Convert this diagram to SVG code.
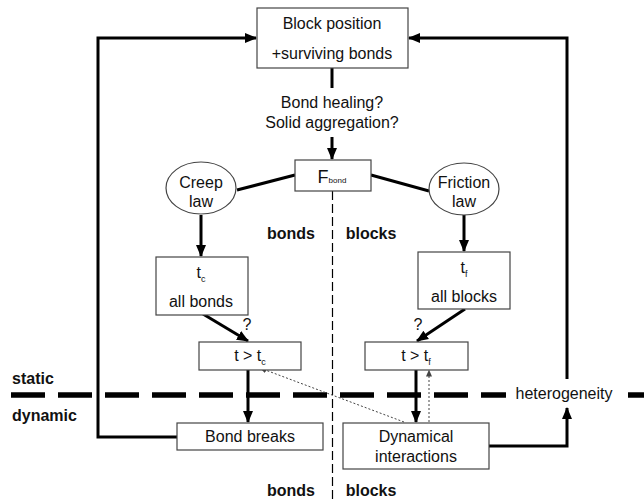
<svg xmlns="http://www.w3.org/2000/svg" width="644" height="501" viewBox="0 0 644 501">
<style>
text{font-family:"Liberation Sans",Arial,sans-serif;font-size:16px;fill:#111;text-anchor:middle}
.b{font-weight:bold}
.box{fill:#fff;stroke:#444;stroke-width:1.2}
.thick{fill:none;stroke:#000;stroke-width:3}
.dot{fill:none;stroke:#444;stroke-width:1;stroke-dasharray:2 2}
.sub{font-size:9px}
</style>
<defs>
<marker id="ah" markerUnits="userSpaceOnUse" markerWidth="12" markerHeight="12" viewBox="0 0 12 12" refX="11" refY="6" orient="auto"><path d="M0,1 L12,6 L0,11 Z" fill="#000"/></marker>
<marker id="as" markerUnits="userSpaceOnUse" markerWidth="7" markerHeight="7" viewBox="0 0 7 7" refX="6.5" refY="3.5" orient="auto"><path d="M0,0.5 L7,3.5 L0,6.5 Z" fill="#444"/></marker>
</defs>
<g id="separators">
<line x1="332.5" y1="191" x2="332.5" y2="501" stroke="#000" stroke-width="1.2" stroke-dasharray="9 4"/>
<line x1="11" y1="395" x2="506" y2="395" stroke="#000" stroke-width="5.5" stroke-dasharray="34 13"/>
<line x1="628" y1="395" x2="644" y2="395" stroke="#000" stroke-width="5.5"/>
</g>
<g id="connectors">
<path class="thick" d="M177,437 H98 V38 H256" marker-end="url(#ah)"/>
<path class="thick" d="M567,379 V38 H409" marker-end="url(#ah)"/>
<path class="thick" d="M332,68 V88"/>
<path class="thick" d="M332,137 V159" marker-end="url(#ah)"/>
<path class="thick" d="M237,190 L295,175"/>
<path class="thick" d="M371,175 L429,191"/>
<path class="thick" d="M201,215 V256" marker-end="url(#ah)"/>
<path class="thick" d="M464,214 V251" marker-end="url(#ah)"/>
<path class="thick" d="M203,314 L248,341" marker-end="url(#ah)"/>
<path class="thick" d="M465,309 L417,341" marker-end="url(#ah)"/>
<path class="thick" d="M248,370 V422" marker-end="url(#ah)"/>
<path class="thick" d="M416,370 V422" marker-end="url(#ah)"/>
<path class="thick" d="M489,446 H567 V408" marker-end="url(#ah)"/>
<path class="dot" d="M404,422 L260,368" marker-end="url(#as)"/>
<path class="dot" d="M429,422 V370" marker-end="url(#as)"/>
</g>
<g id="top"><rect class="box" x="257" y="8" width="151" height="60"/><text x="332" y="29" font-size="16.5">Block position</text><text x="332" y="59" font-size="16.5">+surviving bonds</text></g>
<g id="question"><text x="332" y="108" font-size="16.5">Bond healing?</text><text x="332" y="128" font-size="16.5">Solid aggregation?</text></g>
<g id="fbond"><rect class="box" x="295" y="160" width="76" height="31"/><text x="332" y="183"><tspan font-size="18">F</tspan><tspan font-size="8">bond</tspan></text></g>
<g id="creep"><ellipse cx="201" cy="188" rx="35" ry="26" fill="#fff" stroke="#444" stroke-width="1.2"/><text x="201" y="188">Creep</text><text x="201" y="207">law</text></g>
<g id="friction"><ellipse cx="464" cy="189" rx="35" ry="26" fill="#fff" stroke="#444" stroke-width="1.2"/><text x="464" y="188">Friction</text><text x="464" y="207">law</text></g>
<g id="labels"><text class="b" x="291" y="239">bonds</text><text class="b" x="371" y="239">blocks</text><text class="b" x="291" y="496">bonds</text><text class="b" x="371" y="496">blocks</text><text class="b" x="12" y="384" style="text-anchor:start">static</text><text class="b" x="12" y="421" style="text-anchor:start">dynamic</text><text x="564" y="399">heterogeneity</text></g>
<g id="tc"><rect class="box" x="156" y="257" width="92" height="58"/><text x="201" y="278">t<tspan class="sub" dy="4">c</tspan></text><text x="201" y="307">all bonds</text></g>
<g id="tf"><rect class="box" x="418" y="252" width="92" height="57"/><text x="464" y="273">t<tspan class="sub" dy="4">f</tspan></text><text x="464" y="302">all blocks</text></g>
<g id="q"><text x="247" y="330">?</text><text x="418" y="330">?</text></g>
<g id="ttc"><rect class="box" x="199" y="342" width="102" height="28"/><text x="250" y="361">t &gt; t<tspan class="sub" dy="4">c</tspan></text></g>
<g id="ttf"><rect class="box" x="365" y="342" width="103" height="28"/><text x="416" y="361">t &gt; t<tspan class="sub" dy="4">f</tspan></text></g>
<g id="breaks"><rect class="box" x="177" y="423" width="146" height="27"/><text x="250" y="442">Bond breaks</text></g>
<g id="dyn"><rect class="box" x="343" y="423" width="146" height="46"/><text x="416" y="442">Dynamical</text><text x="416" y="462">interactions</text></g>
</svg>
